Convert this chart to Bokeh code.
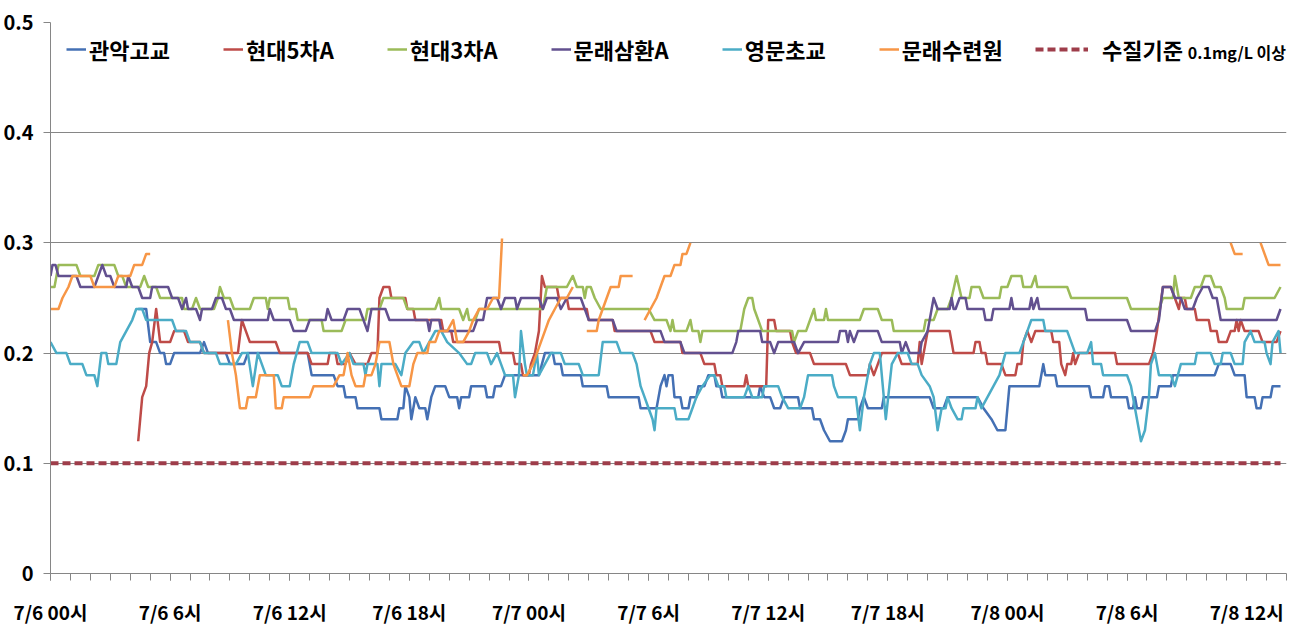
from bokeh.plotting import figure
from bokeh.models import ColumnDataSource, FixedTicker, Legend, LegendItem, Label, Range1d
from bokeh.embed import file_html
from bokeh.resources import INLINE

NaN = float("nan")

# ---------------- data ----------------
series_names = ["관악고교", "현대5차A", "현대3차A", "문래삼환A", "영문초교", "문래수련원"]
standard_name = "수질기준"
standard_note = "0.1mg/L 이상"
standard_value = 0.1
time_span = [0, 61.7]          # hours from 7/6 00시

x_tick_hours = [0, 6, 12, 18, 24, 30, 36, 42, 48, 54, 60]
x_tick_labels = ["7/6 00시", "7/6 6시", "7/6 12시", "7/6 18시", "7/7 00시", "7/7 6시",
                 "7/7 12시", "7/7 18시", "7/8 00시", "7/8 6시", "7/8 12시"]
y_ticks = [0, 0.1, 0.2, 0.3, 0.4, 0.5]
y_tick_labels = ["0", "0.1", "0.2", "0.3", "0.4", "0.5"]

# (hour, residual chlorine mg/L)
gwanak = [(4.4,0.24),(4.8,0.24),(5.0,0.21),(5.3,0.21),(5.5,0.20),(5.7,0.20),(5.8,0.19),(6.0,0.19),(6.2,0.20),(7.5,0.20),(7.7,0.21),(7.9,0.20),(8.8,0.20),(9.0,0.19),(9.7,0.19),(9.9,0.20),(12.9,0.20),(13.1,0.18),(14.2,0.18),(14.4,0.17),(14.7,0.17),(14.8,0.16),(15.3,0.16),(15.4,0.15),(16.5,0.15),(16.6,0.14),(17.4,0.14),(17.5,0.15),(17.7,0.15),(17.8,0.17),(18.0,0.16),(18.1,0.14),(18.3,0.16),(18.5,0.15),(18.8,0.15),(18.9,0.14),(19.1,0.16),(19.3,0.17),(19.8,0.17),(20.0,0.16),(20.4,0.16),(20.5,0.15),(20.6,0.16),(21.0,0.16),(21.1,0.17),(21.8,0.17),(21.9,0.16),(22.2,0.16),(22.3,0.17),(22.6,0.17),(22.8,0.18),(24.5,0.18),(24.8,0.20),(25.2,0.20),(25.3,0.19),(25.6,0.19),(25.7,0.18),(26.6,0.18),(26.7,0.17),(27.9,0.17),(28.0,0.16),(29.5,0.16),(29.6,0.15),(30.4,0.15),(30.6,0.17),(30.8,0.18),(30.9,0.17),(31.0,0.18),(31.2,0.18),(31.3,0.16),(31.6,0.16),(31.7,0.15),(32.0,0.15),(32.1,0.16),(32.4,0.16),(32.5,0.17),(32.8,0.17),(33.0,0.18),(33.3,0.18),(33.4,0.17),(33.6,0.17),(33.7,0.16),(35.5,0.16),(35.6,0.17),(35.8,0.16),(36.1,0.16),(36.3,0.15),(36.6,0.15),(36.8,0.16),(37.5,0.16),(37.6,0.15),(38.2,0.15),(38.3,0.14),(38.6,0.14),(38.8,0.13),(39.1,0.12),(39.7,0.12),(39.9,0.13),(40.0,0.14),(40.5,0.14),(40.6,0.15),(40.8,0.16),(41.0,0.15),(41.7,0.15),(41.8,0.16),(44.1,0.16),(44.3,0.15),(44.8,0.15),(45.0,0.16),(46.5,0.16),(46.8,0.15),(47.2,0.14),(47.5,0.13),(47.9,0.13),(48.1,0.17),(49.6,0.17),(49.8,0.19),(49.9,0.18),(50.4,0.18),(50.5,0.17),(52.1,0.17),(52.2,0.16),(52.8,0.16),(52.9,0.17),(53.1,0.17),(53.2,0.16),(54.0,0.16),(54.1,0.15),(54.3,0.15),(54.4,0.16),(54.5,0.15),(54.7,0.15),(54.8,0.16),(55.5,0.16),(55.6,0.17),(56.2,0.17),(56.3,0.18),(58.4,0.18),(58.6,0.19),(59.2,0.19),(59.4,0.18),(59.9,0.18),(60.0,0.16),(60.4,0.16),(60.5,0.15),(60.7,0.15),(60.8,0.16),(61.2,0.16),(61.3,0.17),(61.7,0.17)]

hyundai5 = [(4.4,0.12),(4.5,0.14),(4.6,0.16),(4.8,0.17),(4.95,0.20),(5.1,0.21),(5.3,0.24),(5.5,0.21),(6.0,0.21),(6.2,0.22),(6.7,0.22),(6.9,0.21),(7.5,0.21),(7.7,0.20),(9.4,0.20),(9.6,0.23),(9.8,0.22),(10.0,0.21),(11.3,0.21),(11.5,0.20),(12.9,0.20),(13.1,0.19),(13.9,0.19),(14.0,0.20),(14.3,0.20),(14.4,0.19),(14.8,0.19),(15.0,0.20),(15.3,0.19),(15.9,0.19),(16.1,0.20),(16.4,0.20),(16.5,0.25),(16.7,0.26),(17.0,0.26),(17.1,0.25),(17.8,0.25),(17.9,0.24),(18.2,0.24),(18.3,0.23),(19.6,0.23),(19.7,0.22),(20.1,0.22),(20.2,0.21),(22.5,0.21),(22.6,0.20),(23.2,0.20),(23.3,0.19),(23.6,0.19),(23.7,0.18),(24.0,0.18),(24.1,0.19),(24.3,0.20),(24.5,0.22),(24.65,0.27),(24.8,0.26),(25.4,0.26),(25.5,0.25),(25.9,0.25),(26.0,0.24),(26.9,0.24),(27.0,0.23),(28.2,0.23),(28.3,0.22),(30.1,0.22),(30.3,0.21),(31.6,0.21),(31.7,0.20),(32.6,0.20),(32.8,0.19),(33.3,0.19),(33.4,0.18),(33.6,0.18),(33.7,0.17),(34.8,0.17),(34.9,0.18),(35.0,0.17),(35.9,0.17),(36.0,0.23),(36.3,0.23),(36.4,0.22),(37.1,0.22),(37.2,0.21),(37.4,0.20),(38.1,0.20),(38.3,0.19),(39.9,0.19),(40.1,0.18),(41.0,0.18),(41.1,0.19),(41.3,0.18),(41.5,0.19),(41.7,0.20),(42.5,0.20),(42.7,0.19),(43.5,0.19),(43.6,0.21),(43.7,0.19),(44.0,0.22),(45.1,0.22),(45.2,0.21),(45.3,0.20),(46.3,0.20),(46.4,0.21),(46.6,0.21),(46.7,0.20),(46.9,0.20),(47.0,0.19),(47.7,0.19),(47.9,0.18),(48.4,0.18),(48.5,0.19),(48.7,0.19),(48.8,0.21),(49.0,0.22),(49.2,0.21),(49.4,0.22),(50.2,0.22),(50.3,0.21),(50.6,0.21),(50.7,0.19),(50.9,0.18),(51.0,0.19),(51.2,0.19),(51.3,0.20),(51.4,0.19),(51.6,0.20),(53.4,0.20),(53.5,0.19),(55.1,0.19),(55.3,0.20),(55.5,0.22),(55.8,0.26),(56.2,0.26),(56.4,0.25),(56.6,0.24),(56.7,0.25),(56.9,0.25),(57.0,0.24),(57.4,0.24),(57.5,0.23),(58.1,0.23),(58.2,0.22),(58.5,0.22),(58.6,0.21),(59.0,0.21),(59.2,0.22),(59.4,0.22),(59.5,0.23),(59.6,0.22),(59.7,0.23),(59.9,0.22),(60.6,0.22),(60.8,0.21),(61.5,0.21),(61.7,0.22)]

hyundai3 = [(0,0.26),(0.2,0.26),(0.4,0.28),(1.3,0.28),(1.5,0.27),(2.2,0.27),(2.4,0.28),(3.2,0.28),(3.4,0.27),(3.6,0.27),(3.8,0.26),(4.5,0.26),(4.7,0.27),(4.9,0.26),(5.3,0.26),(5.5,0.25),(6.6,0.25),(6.7,0.24),(7.1,0.24),(7.3,0.25),(7.5,0.24),(8.2,0.24),(8.4,0.25),(8.5,0.26),(8.7,0.25),(9.0,0.25),(9.2,0.24),(10.0,0.24),(10.2,0.25),(10.8,0.25),(10.9,0.24),(11.0,0.25),(11.9,0.25),(12.0,0.24),(12.3,0.24),(12.4,0.23),(13.6,0.23),(13.7,0.22),(14.6,0.22),(14.8,0.23),(15.8,0.23),(15.9,0.24),(16.5,0.24),(16.7,0.25),(17.7,0.25),(17.9,0.24),(19.3,0.24),(19.5,0.25),(19.6,0.24),(20.5,0.24),(20.7,0.23),(20.9,0.24),(21.0,0.23),(21.3,0.23),(21.5,0.24),(24.7,0.24),(24.9,0.26),(25.9,0.26),(26.2,0.27),(26.4,0.26),(26.7,0.26),(26.8,0.25),(26.9,0.26),(27.1,0.26),(27.3,0.25),(27.6,0.24),(30.0,0.24),(30.3,0.23),(30.9,0.23),(31.1,0.22),(31.2,0.23),(31.3,0.22),(31.9,0.22),(32.1,0.23),(32.2,0.22),(32.5,0.22),(32.6,0.21),(32.7,0.22),(34.6,0.22),(34.8,0.24),(35.0,0.25),(35.2,0.25),(35.3,0.24),(35.5,0.23),(35.7,0.22),(37.2,0.22),(37.3,0.21),(37.5,0.22),(37.9,0.22),(38.1,0.23),(38.3,0.24),(38.4,0.23),(38.8,0.23),(38.9,0.24),(39.0,0.23),(40.6,0.23),(40.8,0.24),(41.5,0.24),(41.7,0.23),(42.2,0.23),(42.3,0.22),(43.8,0.22),(43.9,0.23),(44.3,0.23),(44.5,0.24),(45.0,0.24),(45.2,0.25),(45.45,0.27),(45.7,0.25),(46.1,0.25),(46.2,0.26),(46.6,0.26),(46.8,0.25),(47.6,0.25),(47.7,0.26),(48.0,0.26),(48.2,0.27),(48.7,0.27),(48.8,0.26),(49.2,0.26),(49.4,0.27),(49.5,0.26),(51.0,0.26),(51.2,0.25),(54.0,0.25),(54.2,0.24),(55.6,0.24),(55.8,0.25),(56.3,0.25),(56.4,0.27),(56.6,0.25),(57.2,0.25),(57.4,0.26),(57.7,0.26),(57.9,0.27),(58.2,0.27),(58.4,0.26),(58.7,0.26),(58.9,0.25),(59.0,0.24),(59.8,0.24),(59.9,0.25),(61.4,0.25),(61.7,0.26)]

samhwan = [(0,0.27),(0.1,0.28),(0.25,0.28),(0.4,0.27),(1.3,0.27),(1.5,0.26),(2.2,0.26),(2.4,0.27),(2.6,0.28),(2.8,0.27),(3.0,0.27),(3.2,0.26),(3.8,0.26),(3.9,0.27),(4.1,0.26),(4.4,0.26),(4.6,0.25),(5.0,0.25),(5.1,0.26),(5.9,0.26),(6.1,0.25),(6.4,0.25),(6.6,0.24),(6.8,0.25),(6.9,0.24),(7.3,0.24),(7.5,0.23),(7.6,0.24),(8.1,0.24),(8.3,0.25),(8.6,0.25),(8.8,0.24),(9.0,0.24),(9.2,0.23),(10.9,0.23),(11.0,0.24),(11.2,0.23),(12.0,0.23),(12.2,0.22),(12.8,0.22),(13.0,0.23),(13.8,0.23),(13.9,0.24),(14.1,0.23),(14.7,0.23),(14.9,0.24),(15.5,0.24),(15.7,0.23),(15.9,0.22),(16.1,0.24),(16.8,0.24),(17.0,0.23),(18.9,0.23),(19.0,0.22),(19.1,0.23),(19.5,0.23),(19.6,0.22),(21.2,0.22),(21.4,0.23),(21.7,0.23),(21.9,0.25),(22.4,0.25),(22.6,0.24),(22.8,0.25),(23.3,0.25),(23.4,0.24),(23.6,0.25),(24.5,0.25),(24.7,0.24),(24.9,0.25),(25.4,0.25),(25.6,0.24),(25.9,0.25),(26.6,0.25),(26.8,0.24),(27.0,0.23),(28.2,0.23),(28.4,0.22),(30.6,0.22),(30.8,0.21),(31.6,0.21),(31.8,0.20),(34.2,0.20),(34.4,0.21),(34.5,0.22),(35.6,0.22),(35.7,0.21),(36.1,0.21),(36.3,0.20),(36.5,0.21),(37.3,0.21),(37.5,0.20),(37.8,0.21),(39.5,0.21),(39.6,0.22),(39.9,0.22),(40.0,0.21),(40.1,0.22),(40.3,0.21),(40.5,0.22),(41.5,0.22),(41.7,0.21),(42.6,0.21),(42.7,0.20),(42.9,0.21),(43.1,0.20),(43.6,0.20),(43.7,0.21),(44.0,0.22),(44.2,0.24),(44.3,0.25),(44.5,0.24),(45.1,0.24),(45.2,0.25),(45.3,0.24),(45.4,0.24),(45.6,0.25),(45.9,0.25),(46.0,0.24),(46.8,0.24),(46.9,0.23),(47.2,0.23),(47.3,0.24),(48.1,0.24),(48.2,0.25),(48.3,0.24),(49.1,0.24),(49.2,0.25),(49.3,0.24),(49.5,0.25),(49.6,0.24),(51.9,0.24),(52.0,0.23),(54.0,0.23),(54.2,0.22),(55.4,0.22),(55.6,0.23),(55.8,0.26),(56.2,0.26),(56.4,0.25),(56.7,0.25),(56.9,0.24),(57.3,0.24),(57.5,0.25),(57.8,0.26),(58.1,0.26),(58.3,0.25),(58.5,0.25),(58.6,0.24),(58.7,0.23),(61.5,0.23),(61.7,0.24)]

yeongmun = [(0,0.21),(0.3,0.20),(0.8,0.20),(1.0,0.19),(1.6,0.19),(1.8,0.18),(2.2,0.18),(2.35,0.17),(2.55,0.20),(2.8,0.20),(2.9,0.19),(3.3,0.19),(3.5,0.21),(3.8,0.22),(4.1,0.23),(4.3,0.24),(4.6,0.24),(4.8,0.23),(6.1,0.23),(6.3,0.22),(6.8,0.22),(7.0,0.21),(7.5,0.21),(7.7,0.20),(8.3,0.20),(8.5,0.19),(9.3,0.19),(9.6,0.20),(9.9,0.20),(10.15,0.17),(10.4,0.20),(10.6,0.19),(10.8,0.18),(11.4,0.18),(11.6,0.17),(12.0,0.17),(12.2,0.19),(12.5,0.21),(12.9,0.21),(13.1,0.20),(14.4,0.20),(14.6,0.19),(15.0,0.20),(15.2,0.19),(15.7,0.19),(15.8,0.18),(15.9,0.19),(16.4,0.19),(16.5,0.17),(16.6,0.19),(17.3,0.19),(17.6,0.18),(17.8,0.20),(18.2,0.21),(18.5,0.21),(18.7,0.20),(19.0,0.21),(19.3,0.22),(19.6,0.22),(19.9,0.21),(20.5,0.20),(20.9,0.19),(21.1,0.19),(21.3,0.20),(21.9,0.20),(22.1,0.19),(22.4,0.20),(22.6,0.19),(22.8,0.18),(23.2,0.18),(23.3,0.16),(23.5,0.18),(23.6,0.22),(23.8,0.19),(23.9,0.18),(24.2,0.18),(24.4,0.20),(24.5,0.18),(24.8,0.19),(25.1,0.20),(25.6,0.20),(25.8,0.19),(26.5,0.19),(26.7,0.18),(27.5,0.18),(27.7,0.21),(28.4,0.21),(28.6,0.20),(29.2,0.20),(29.4,0.19),(29.6,0.17),(29.8,0.16),(30.0,0.15),(30.2,0.14),(30.3,0.13),(30.4,0.15),(31.3,0.15),(31.4,0.14),(32.0,0.14),(32.2,0.15),(32.4,0.16),(32.7,0.17),(33.1,0.18),(33.3,0.18),(33.5,0.17),(33.8,0.17),(33.9,0.16),(34.8,0.16),(35.0,0.17),(35.2,0.16),(35.7,0.16),(35.8,0.17),(36.5,0.17),(36.7,0.16),(37.0,0.15),(37.6,0.15),(37.8,0.16),(38.0,0.18),(39.2,0.18),(39.3,0.17),(39.5,0.16),(40.4,0.16),(40.6,0.13),(40.8,0.16),(41.1,0.19),(41.3,0.20),(41.6,0.20),(41.9,0.14),(42.2,0.19),(42.5,0.20),(43.0,0.20),(43.2,0.19),(43.5,0.19),(43.7,0.18),(44.1,0.17),(44.3,0.16),(44.5,0.13),(44.7,0.15),(44.9,0.15),(45.0,0.16),(45.2,0.15),(45.5,0.14),(45.7,0.14),(45.8,0.15),(46.4,0.15),(46.5,0.16),(46.7,0.15),(47.0,0.16),(47.3,0.17),(47.6,0.18),(47.9,0.20),(48.6,0.20),(48.8,0.21),(49.0,0.22),(49.2,0.23),(49.8,0.23),(49.9,0.22),(51.0,0.22),(51.2,0.21),(51.4,0.20),(52.0,0.20),(52.2,0.21),(52.3,0.19),(52.7,0.19),(52.8,0.18),(54.0,0.18),(54.2,0.17),(54.3,0.16),(54.5,0.14),(54.7,0.12),(54.9,0.13),(55.1,0.16),(55.2,0.19),(55.4,0.20),(55.6,0.18),(56.2,0.18),(56.4,0.17),(56.7,0.19),(57.4,0.19),(57.5,0.20),(58.2,0.20),(58.4,0.19),(58.7,0.19),(58.8,0.20),(59.2,0.20),(59.4,0.19),(59.8,0.19),(59.9,0.21),(60.2,0.22),(60.4,0.21),(60.9,0.21),(61.0,0.20),(61.2,0.19),(61.3,0.21),(61.6,0.22),(61.7,0.20)]

suryeon = [(0,0.24),(0.4,0.24),(0.6,0.25),(0.9,0.26),(1.1,0.27),(2.0,0.27),(2.2,0.26),(3.2,0.26),(3.4,0.27),(4.0,0.27),(4.2,0.28),(4.6,0.28),(4.8,0.29),(5.0,0.29),(5.05,NaN),
           (8.9,0.23),(9.1,0.20),(9.3,0.18),(9.5,0.15),(9.8,0.15),(9.9,0.16),(10.3,0.16),(10.5,0.18),(11.2,0.18),(11.3,0.15),(11.6,0.15),(11.7,0.16),(13.0,0.16),(13.2,0.17),(14.2,0.17),(14.5,0.18),(14.7,0.18),(14.9,0.20),(15.1,0.18),(15.3,0.17),(15.7,0.17),(15.8,0.18),(16.1,0.18),(16.3,0.19),(16.5,0.21),(17.0,0.21),(17.2,0.19),(17.4,0.18),(17.6,0.17),(18.0,0.17),(18.2,0.19),(18.4,0.20),(18.9,0.20),(19.0,0.21),(19.3,0.21),(19.5,0.22),(19.9,0.22),(20.2,0.23),(20.4,0.21),(20.7,0.21),(21.0,0.22),(21.2,0.23),(21.5,0.24),(21.9,0.24),(22.2,0.25),(22.5,0.25),(22.65,0.304),(22.7,NaN),
           (23.7,0.18),(23.9,0.18),(24.2,0.19),(24.4,0.20),(24.6,0.21),(24.8,0.22),(25.0,0.23),(25.3,0.24),(25.6,0.25),(25.9,0.25),(26.2,0.26),(26.3,NaN),
           (26.9,0.22),(27.4,0.22),(27.5,0.23),(27.7,0.24),(27.9,0.25),(28.1,0.26),(28.5,0.26),(28.6,0.27),(29.2,0.27),(29.3,NaN),
           (29.8,0.23),(30.1,0.24),(30.4,0.25),(30.6,0.26),(30.8,0.27),(31.1,0.27),(31.3,0.28),(31.6,0.28),(31.7,0.29),(31.9,0.29),(32.1,0.30),(32.2,NaN),
           (59.2,0.30),(59.4,0.29),(59.8,0.29),(59.9,NaN),
           (60.7,0.30),(60.9,0.29),(61.1,0.28),(61.7,0.28)]

series_data = [gwanak, hyundai5, hyundai3, samhwan, yeongmun, suryeon]
series_colors = ["#4470B4", "#BE4B48", "#9BBB59", "#62508F", "#4BACC6", "#F79646"]
standard_color = "#9E3D4A"

# ---------------- figure ----------------
p = figure(width=1293, height=627, output_backend="svg", toolbar_location=None,
           x_range=Range1d(0, 62), y_range=Range1d(0, 0.5),
           min_border_left=46, min_border_right=7, min_border_top=22, min_border_bottom=52)
p.outline_line_color = None
p.background_fill_color = "white"
p.border_fill_color = "white"

p.xgrid.visible = False
p.ygrid.grid_line_color = "#868686"
p.ygrid.grid_line_width = 1

FONT = "Noto Sans CJK KR"

p.xaxis.ticker = FixedTicker(ticks=x_tick_hours, minor_ticks=list(range(0, 63)))
p.xaxis.major_label_overrides = {h: lab for h, lab in zip(x_tick_hours, x_tick_labels)}
p.xaxis.axis_line_color = "#868686"
p.xaxis.major_tick_line_color = "#868686"
p.xaxis.minor_tick_line_color = "#868686"
p.xaxis.major_tick_in = 0
p.xaxis.major_tick_out = 7
p.xaxis.minor_tick_in = 0
p.xaxis.minor_tick_out = 7
p.xaxis.major_label_standoff = 17
p.xaxis.major_label_text_font = FONT
p.xaxis.major_label_text_font_style = "bold"
p.xaxis.major_label_text_font_size = "19px"
p.xaxis.major_label_text_color = "black"

p.yaxis.ticker = FixedTicker(ticks=y_ticks)
p.yaxis.major_label_overrides = {t: lab for t, lab in zip(y_ticks, y_tick_labels)}
p.yaxis.axis_line_color = "#868686"
p.yaxis.major_tick_line_color = "#868686"
p.yaxis.minor_tick_line_color = None
p.yaxis.major_tick_in = 0
p.yaxis.major_tick_out = 7
p.yaxis.major_label_standoff = 10
p.yaxis.major_label_text_font = FONT
p.yaxis.major_label_text_font_style = "bold"
p.yaxis.major_label_text_font_size = "20px"
p.yaxis.major_label_text_color = "black"

renderers = []
for data, color in zip(series_data, series_colors):
    src = ColumnDataSource(dict(h=[d[0] for d in data], v=[d[1] for d in data]))
    r = p.line("h", "v", source=src, line_color=color, line_width=2.5, line_join="round")
    renderers.append(r)

std_src = ColumnDataSource(dict(h=time_span, v=[standard_value] * len(time_span)))
std_r = p.line("h", "v", source=std_src, line_color=standard_color, line_width=4,
               line_dash="8 4")

leg1 = Legend(items=[LegendItem(label=n, renderers=[r]) for n, r in zip(series_names, renderers)],
              orientation="horizontal", location=(16, 508),
              glyph_width=20, glyph_height=20, label_standoff=3, spacing=53,
              padding=0, margin=0, border_line_color=None, background_fill_alpha=0,
              label_text_font=FONT, label_text_font_style="bold", label_text_font_size="22px",
              label_text_color="black")
p.add_layout(leg1)

leg2 = Legend(items=[LegendItem(label=standard_name, renderers=[std_r])],
              orientation="horizontal", location=(985, 508),
              glyph_width=53, glyph_height=20, label_standoff=14,
              padding=0, margin=0, border_line_color=None, background_fill_alpha=0,
              label_text_font=FONT, label_text_font_style="bold", label_text_font_size="22px",
              label_text_color="black")
p.add_layout(leg2)

note = Label(x=57.05, y=0.473, text=standard_note, text_font=FONT, text_font_style="bold",
             text_font_size="16px", text_baseline="middle", text_color="black")
p.add_layout(note)

open("out.html", "w").write(file_html(p, INLINE))
